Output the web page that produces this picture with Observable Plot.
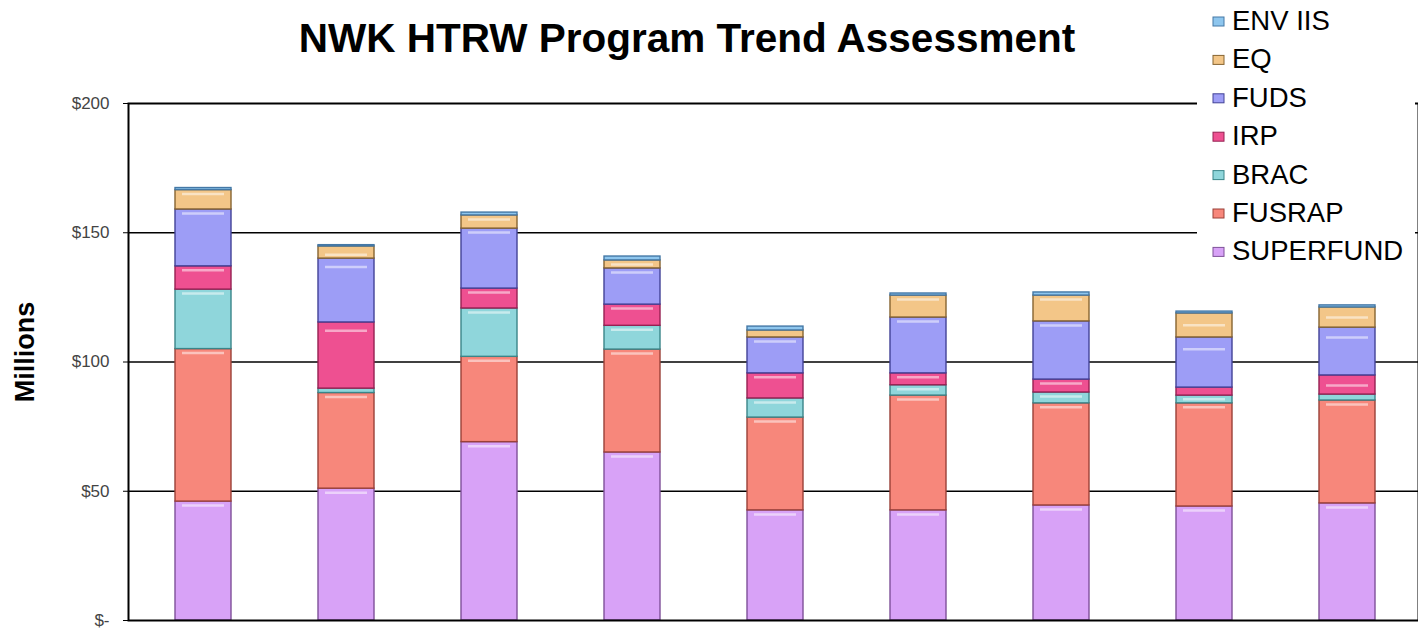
<!DOCTYPE html>
<html>
<head>
<meta charset="utf-8">
<script src="https://cdn.jsdelivr.net/npm/d3@7"></script>
<script src="https://cdn.jsdelivr.net/npm/@observablehq/plot@0.6"></script>
<style>
  html, body { margin: 0; padding: 0; background: #ffffff; }
  #wrap { position: relative; width: 1418px; height: 632px; overflow: hidden; font-family: "Liberation Sans", Arial, sans-serif; }
  #wrap svg.overlay { position: absolute; left: 0; top: 0; pointer-events: none; }
</style>
</head>
<body>
<div id="wrap"></div>
<script>
// ---- data (values in $ millions) ----
const periods = ["P1", "P2", "P3", "P4", "P5", "P6", "P7", "P8", "P9"];
const seriesNames = ["SUPERFUND", "FUSRAP", "BRAC", "IRP", "FUDS", "EQ", "ENV IIS"];
const superfund = [46, 51, 69, 65, 42.6, 42.6, 44.5, 44.1, 45.3];
const fusrap    = [59, 37, 33, 39.8, 35.9, 44.4, 39.5, 39.9, 39.8];
const brac      = [23, 1.7, 18.7, 9.2, 7.4, 4, 4.2, 3, 2.3];
const irp       = [9, 25.6, 7.7, 8.2, 9.7, 4.6, 5, 3.1, 7.4];
const fuds      = [22, 24.7, 23.2, 14, 13.9, 21.6, 22.5, 19.4, 18.5];
const eq        = [7.5, 4.7, 5.1, 3.1, 2.7, 8.5, 10, 9.3, 7.8];
const envIIS    = [0.8, 0.5, 1.1, 1.5, 1.5, 0.8, 1.2, 0.7, 0.8];
const yTicks = [0, 50, 100, 150, 200];
const gridValues = [50, 100, 150];

const fills   = ["#d8a2f7", "#f7877b", "#8fd6db", "#ee5091", "#9d9df6", "#f3c688", "#8ec6ee"];
const strokes = ["#7f5199", "#9a4038", "#3a8589", "#962052", "#424297", "#866431", "#4478a6"];

const seriesValues = [superfund, fusrap, brac, irp, fuds, eq, envIIS];
const data = [];
periods.forEach((p, i) => {
  seriesNames.forEach((s, j) => data.push({period: p, series: s, value: seriesValues[j][i]}));
});

const W = 1418, H = 632;

const stackOpts = {x: "period", y: "value", z: "series", order: seriesNames};

const chart = Plot.plot({
  width: W,
  height: H,
  marginTop: 103,
  marginBottom: 12,
  marginLeft: 128,
  marginRight: 0,
  style: {fontFamily: "'Liberation Sans', Arial, sans-serif", background: "transparent"},
  x: {domain: periods, paddingInner: 0.61, paddingOuter: 0.305, insetLeft: 3, axis: null},
  y: {domain: [0, 200], label: null},
  color: {domain: seriesNames, range: fills},
  marks: [
    Plot.ruleY(gridValues, {stroke: "#000", strokeWidth: 1.3}),
    Plot.barY(data, Plot.stackY({
      ...stackOpts,
      fill: "series",
      stroke: d => strokes[seriesNames.indexOf(d.series)],
      strokeWidth: 1.4
    })),
    Plot.tickY(data.filter(d => d.value > 3), Plot.stackY2({
      ...stackOpts,
      dy: 4,
      inset: 7,
      stroke: "#ffffff",
      strokeOpacity: 0.5,
      strokeWidth: 2.5
    })),
    Plot.frame({stroke: "#000", strokeWidth: 2}),
    Plot.axisY({
      ticks: yTicks,
      tickFormat: d => d === 0 ? "$-" : "$" + d,
      tickSize: 5,
      tickPadding: 14,
      fontSize: 17,
      color: "#444",
      stroke: "#000",
      label: null
    })
  ]
});

const wrap = document.getElementById("wrap");
wrap.appendChild(chart);

// ---- overlay: title, axis title, legend ----
const svg = d3.select(wrap).append("svg")
  .attr("class", "overlay")
  .attr("width", W).attr("height", H);

svg.append("text")
  .attr("x", 687).attr("y", 52)
  .attr("text-anchor", "middle")
  .style("font", "bold 40.5px 'Liberation Sans', Arial, sans-serif")
  .attr("fill", "#000")
  .text("NWK HTRW Program Trend Assessment");

svg.append("text")
  .attr("transform", "translate(34,352) rotate(-90)")
  .attr("text-anchor", "middle")
  .style("font", "bold 27px 'Liberation Sans', Arial, sans-serif")
  .attr("fill", "#000")
  .text("Millions");

// legend box
svg.append("rect")
  .attr("x", 1197).attr("y", 0).attr("width", 218).attr("height", 262)
  .attr("fill", "#ffffff");

const legendOrder = seriesNames.slice().reverse();
legendOrder.forEach((s, i) => {
  const j = seriesNames.indexOf(s);
  const base = 30 + i * 38.4;
  svg.append("rect")
    .attr("x", 1213).attr("y", base - 13).attr("width", 11).attr("height", 9)
    .attr("fill", fills[j]).attr("stroke", strokes[j]).attr("stroke-width", 1);
  svg.append("text")
    .attr("x", 1232).attr("y", base)
    .style("font", "27.5px 'Liberation Sans', Arial, sans-serif")
    .attr("fill", "#000")
    .text(s);
});
</script>
</body>
</html>
